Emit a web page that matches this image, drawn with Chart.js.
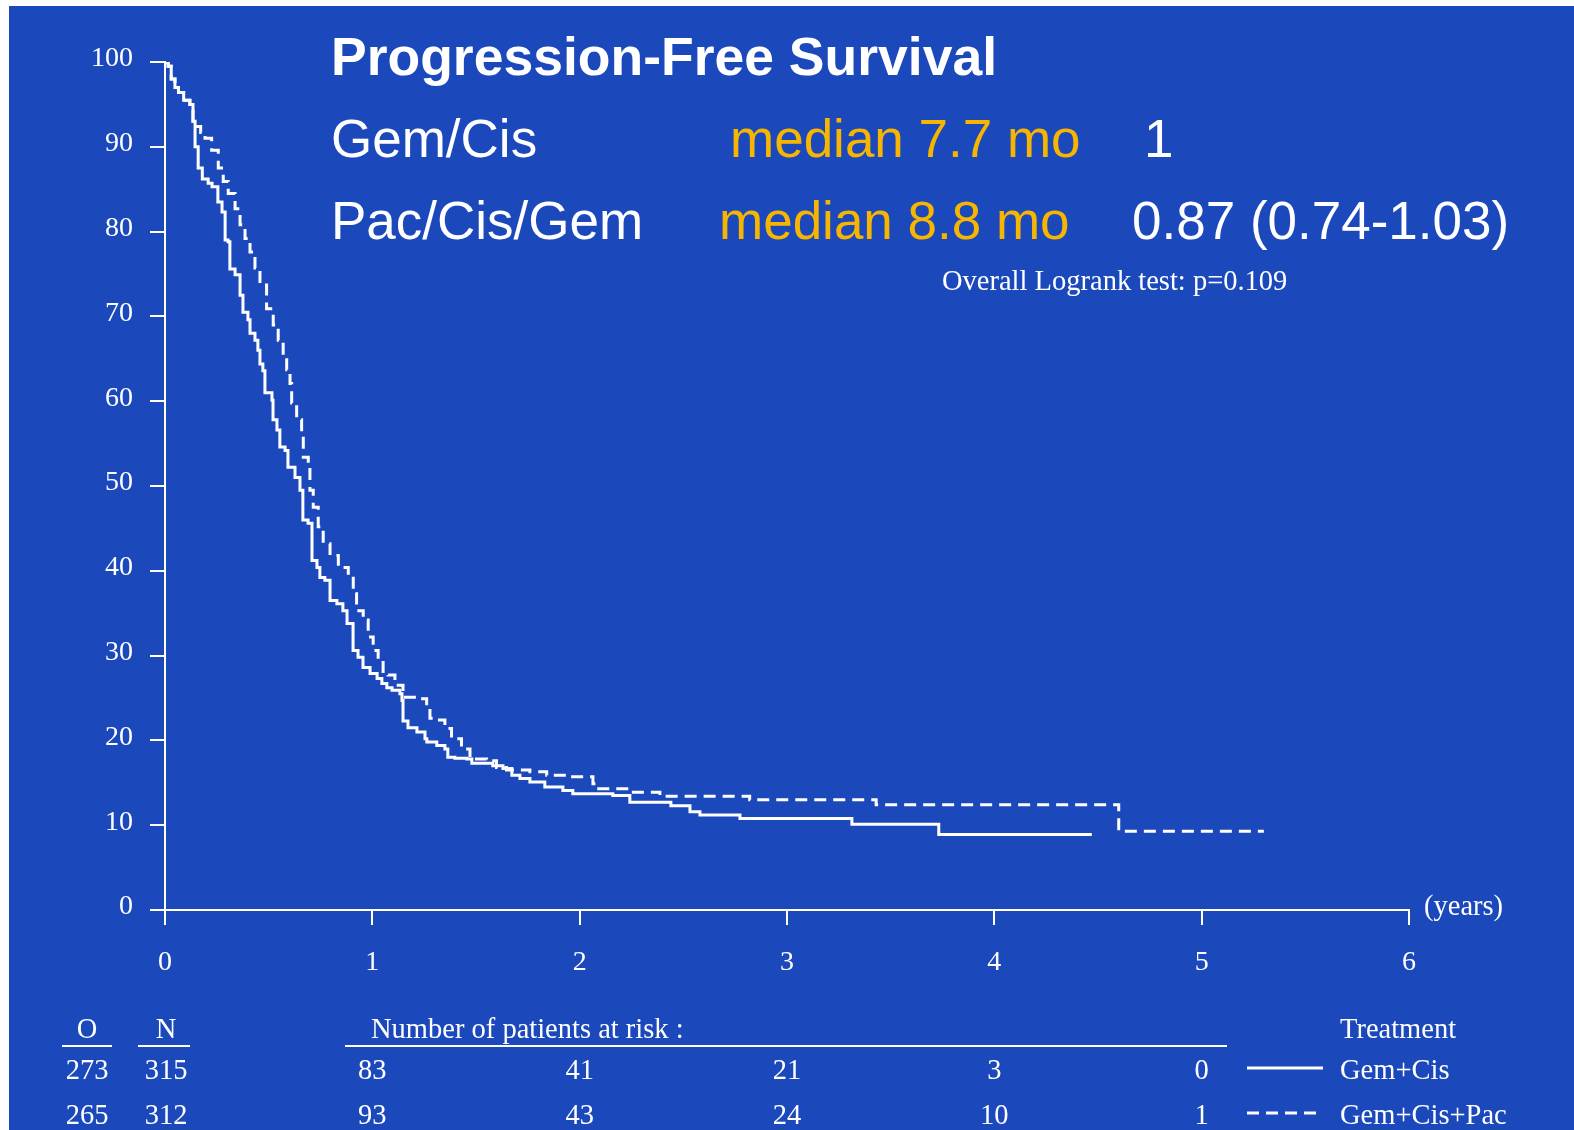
<!DOCTYPE html>
<html>
<head>
<meta charset="utf-8">
<script src="https://cdn.jsdelivr.net/npm/chart.js@4.4.1/dist/chart.umd.min.js"></script>
<style>
  html, body { margin: 0; padding: 0; background: #ffffff; }
  #frame { position: absolute; left: 9px; top: 6px; width: 1565px; height: 1124px; background: #1b49bc; }
</style>
</head>
<body>
<div id="frame"><canvas id="pfsChart" width="1565" height="1124"></canvas></div>
<script>
// Kaplan-Meier curves (years, % progression-free)
const gcTimes = [0, 0.015, 0.030, 0.048, 0.065, 0.090, 0.120, 0.135, 0.145, 0.160, 0.180,
  0.208, 0.227, 0.255, 0.275, 0.290, 0.304, 0.313, 0.338, 0.362, 0.376,
  0.400, 0.410, 0.434, 0.448, 0.458, 0.472, 0.482, 0.516, 0.521, 0.540,
  0.554, 0.579, 0.593, 0.627, 0.651, 0.665, 0.690, 0.709, 0.733, 0.747,
  0.771, 0.796, 0.829, 0.858, 0.878, 0.907, 0.931, 0.955, 0.989, 1.023,
  1.046, 1.070, 1.095, 1.133, 1.143, 1.148, 1.172, 1.215, 1.254, 1.263,
  1.311, 1.350, 1.364, 1.398, 1.456, 1.480, 1.581, 1.630, 1.673, 1.712,
  1.760, 1.832, 1.919, 1.967, 2.160, 2.242, 2.440, 2.532, 2.580, 2.773,
  3.313, 3.732, 4.470];
const gcSurv = [100, 99.5, 98.0, 97.0, 96.4, 95.5, 95.0, 93.0, 90.0, 87.5, 86.2,
  85.7, 85.3, 83.5, 82.3, 79.0, 78.8, 75.6, 74.9, 72.5, 70.5,
  69.6, 68.0, 67.2, 66.0, 64.4, 63.6, 61.0, 60.1, 57.8, 56.6,
  54.6, 54.2, 52.2, 51.0, 49.5, 46.0, 45.6, 41.2, 40.4, 39.2,
  38.9, 36.5, 36.1, 35.3, 33.8, 30.6, 29.8, 28.6, 27.9, 27.3,
  26.7, 26.2, 25.9, 25.5, 24.7, 22.3, 21.5, 21.0, 20.2, 19.8,
  19.4, 19.0, 18.0, 17.9, 17.8, 17.3, 17.0, 16.7, 15.9, 15.5,
  15.1, 14.5, 14.1, 13.7, 13.5, 12.7, 12.3, 11.6, 11.2, 10.8,
  10.1, 8.9, 8.9];

const pcgTimes = [0, 0.015, 0.030, 0.048, 0.065, 0.090, 0.120, 0.135, 0.152, 0.172, 0.193, 0.225,
  0.257, 0.281, 0.305, 0.338, 0.362, 0.386, 0.410, 0.434, 0.458, 0.490,
  0.522, 0.546, 0.570, 0.587, 0.603, 0.611, 0.635, 0.659, 0.667, 0.691,
  0.699, 0.715, 0.739, 0.763, 0.796, 0.836, 0.884, 0.908, 0.924, 0.956,
  0.980, 1.004, 1.028, 1.052, 1.076, 1.109, 1.148, 1.230, 1.262, 1.278,
  1.310, 1.350, 1.382, 1.430, 1.471, 1.551, 1.599, 1.647, 1.760, 1.841,
  1.953, 2.064, 2.082, 2.242, 2.387, 2.820, 3.430, 4.600, 5.300];
const pcgSurv = [100, 99.5, 98.0, 97.0, 96.4, 95.5, 95.0, 93.0, 92.4, 91.7, 91.0, 89.6,
  87.5, 85.9, 84.5, 82.7, 80.8, 79.2, 77.6, 75.7, 73.7, 70.9,
  69.0, 67.2, 65.4, 63.7, 62.1, 59.8, 57.8, 56.2, 53.4, 52.2,
  49.5, 47.5, 45.2, 43.2, 41.8, 40.4, 39.3, 37.3, 35.3, 34.2,
  32.2, 30.6, 29.4, 27.9, 27.7, 26.5, 25.1, 24.9, 23.7, 22.6,
  22.4, 21.4, 20.2, 19.0, 17.8, 17.6, 16.8, 16.5, 16.3, 15.9,
  15.7, 14.9, 14.3, 13.9, 13.4, 13.0, 12.4, 9.3, 9.3];

// number at risk table
const riskTimes = [1, 2, 3, 4, 5];
const riskGC = [83, 41, 21, 3, 0];
const riskPCG = [93, 43, 24, 10, 1];
const groupLabels = ['Gem+Cis', 'Gem+Cis+Pac'];
const eventsO = [273, 265];
const patientsN = [315, 312];

const xMax = 6;
const yMax = 100;

const SERIF = '"Liberation Serif", "Times New Roman", serif';
const SANS = '"Liberation Sans", Arial, sans-serif';
const ORANGE = '#f7b500';

function toPoints(times, surv) {
  return times.map((t, i) => ({x: t, y: surv[i]}));
}

// titles, numbers at risk and legend drawn on top of the chart
const slideText = {
  id: 'slideText',
  afterDraw(chart) {
    const ctx = chart.ctx;
    const xs = chart.scales.x;
    ctx.save();
    ctx.fillStyle = '#ffffff';
    ctx.textBaseline = 'alphabetic';

    ctx.textAlign = 'left';
    ctx.font = 'bold 53.5px ' + SANS;
    ctx.fillText('Progression-Free Survival', 322, 69);

    ctx.font = '53px ' + SANS;
    ctx.fillText('Gem/Cis', 322, 151);
    ctx.fillText('Pac/Cis/Gem', 322, 233);
    ctx.fillText('1', 1135, 151);
    ctx.fillText('0.87 (0.74-1.03)', 1123, 233);
    ctx.fillStyle = ORANGE;
    ctx.fillText('median 7.7 mo', 721, 151);
    ctx.fillText('median 8.8 mo', 710, 233);

    ctx.fillStyle = '#ffffff';
    ctx.font = '28.5px ' + SERIF;
    ctx.fillText('Overall Logrank test: p=0.109', 933, 284);
    ctx.fillText('(years)', 1415, 909);

    // table header
    ctx.textAlign = 'center';
    ctx.fillText('O', 78, 1032);
    ctx.fillText('N', 157, 1032);
    ctx.textAlign = 'left';
    ctx.fillText('Number of patients at risk :', 362, 1032);
    ctx.fillText('Treatment', 1331, 1032);

    ctx.strokeStyle = '#ffffff';
    ctx.lineWidth = 2;
    ctx.beginPath();
    ctx.moveTo(53, 1040); ctx.lineTo(103, 1040);
    ctx.moveTo(129, 1040); ctx.lineTo(181, 1040);
    ctx.moveTo(336, 1040); ctx.lineTo(1218, 1040);
    ctx.stroke();

    const rows = [riskGC, riskPCG];
    const baselines = [1073, 1118];
    const dashes = [[], [12, 7]];
    rows.forEach((row, r) => {
      const yb = baselines[r];
      ctx.textAlign = 'center';
      ctx.fillText(String(eventsO[r]), 78, yb);
      ctx.fillText(String(patientsN[r]), 157, yb);
      row.forEach((n, i) => {
        ctx.fillText(String(n), xs.getPixelForValue(riskTimes[i]), yb);
      });
      // legend sample
      ctx.textAlign = 'left';
      ctx.fillText(groupLabels[r], 1331, yb);
      ctx.lineWidth = 3;
      ctx.setLineDash(dashes[r]);
      ctx.beginPath();
      ctx.moveTo(1238, yb - 11);
      ctx.lineTo(1314, yb - 11);
      ctx.stroke();
      ctx.setLineDash([]);
    });
    ctx.restore();
  }
};

const ctxKm = document.getElementById('pfsChart').getContext('2d');
new Chart(ctxKm, {
  type: 'line',
  data: {
    datasets: [{
      label: 'Gem+Cis',
      data: toPoints(gcTimes, gcSurv),
      borderColor: '#ffffff',
      borderWidth: 3,
      stepped: true,
      pointRadius: 0,
      fill: false
    }, {
      label: 'Gem+Cis+Pac',
      data: toPoints(pcgTimes, pcgSurv),
      borderColor: '#ffffff',
      borderWidth: 3,
      borderDash: [12, 7],
      stepped: true,
      pointRadius: 0,
      fill: false
    }]
  },
  options: {
    responsive: false,
    animation: false,
    devicePixelRatio: 1,
    layout: {padding: {left: 0, top: 56, right: 165, bottom: 0}},
    plugins: {
      legend: {display: false},
      tooltip: {enabled: false}
    },
    scales: {
      x: {
        type: 'linear',
        min: 0,
        max: xMax,
        afterFit(scale) { scale.height = 220; },
        border: {color: '#ffffff', width: 2},
        grid: {drawOnChartArea: false, drawTicks: true, tickLength: 15, color: '#ffffff', lineWidth: 2},
        ticks: {stepSize: 1, color: '#ffffff', padding: 21, font: {family: SERIF, size: 28}}
      },
      y: {
        min: 0,
        max: yMax,
        afterFit(scale) { scale.width = 156; },
        border: {color: '#ffffff', width: 2},
        grid: {drawOnChartArea: false, drawTicks: true, tickLength: 15, color: '#ffffff', lineWidth: 2},
        ticks: {stepSize: 10, color: '#ffffff', padding: 17, labelOffset: -3, font: {family: SERIF, size: 28}}
      }
    }
  },
  plugins: [slideText]
});
</script>
</body>
</html>
